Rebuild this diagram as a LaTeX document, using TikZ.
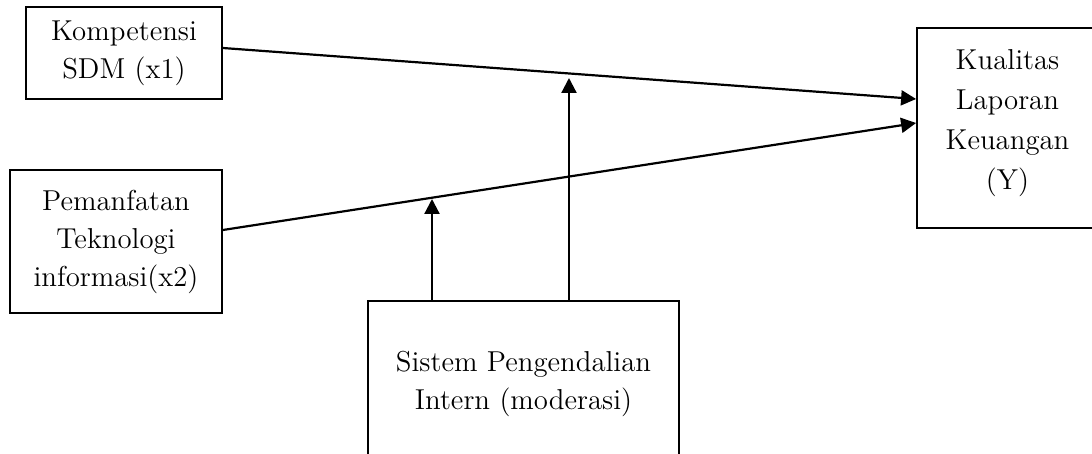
\documentclass[tikz,border=0pt]{standalone}
\usetikzlibrary{arrows.meta,calc}
\begin{document}
\begin{tikzpicture}[x=0.5pt,y=-0.5pt,
  box/.style={draw,line width=0.9pt,rectangle,align=center,inner sep=0pt,
    font=\fontsize{14.4}{19}\selectfont},
  arr/.style={line width=1.1pt,-{Triangle[length=7.5pt,width=7.5pt]}}]
\useasboundingbox (0,0) rectangle (1092,454);
\clip (0,0) rectangle (1092,454);
\node[box,minimum width=98pt,minimum height=46pt] (k1) at (124,53) {Kompetensi\\SDM (x1)};
\node[box,minimum width=106pt,minimum height=71.5pt] (k2) at (116,241.5) {Pemanfatan\\Teknologi\\informasi(x2)};
\node[box,minimum width=90.5pt,minimum height=100pt,font=\fontsize{14.4}{20}\selectfont] (y) at (1007.5,128) {Kualitas\\Laporan\\Keuangan\\(Y)\\[-12pt]\mbox{}};
\node[box,minimum width=155.5pt,minimum height=83pt] (m) at (523.5,384) {Sistem Pengendalian\\Intern (moderasi)};
\coordinate (t1) at (569,78);
\coordinate (t2) at (432,199);
\draw[arr] ([yshift=2.5pt]k1.east) -- ([yshift=14.5pt]y.west);
\draw[arr] ([yshift=5.75pt]k2.east) -- ([yshift=2.5pt]y.west);
\draw[arr] (m.north -| t1) -- (t1);
\draw[arr] (m.north -| t2) -- (t2);
\end{tikzpicture}
\end{document}
